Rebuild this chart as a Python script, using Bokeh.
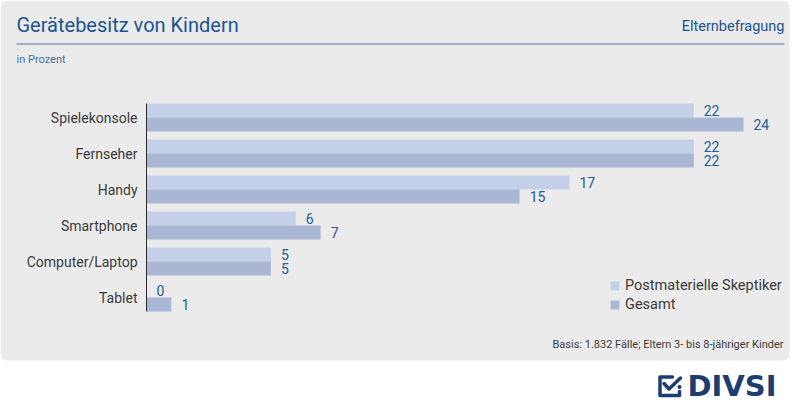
import numpy as np
from bokeh.plotting import figure
from bokeh.models import ColumnDataSource, Range1d, Legend, LegendItem
from bokeh.core.properties import value
from bokeh.embed import file_html
from bokeh.resources import INLINE

# ---------------- data ----------------
categories = ["Spielekonsole", "Fernseher", "Handy", "Smartphone", "Computer/Laptop", "Tablet"]
postmaterielle = [22, 22, 17, 6, 5, 0]
gesamt = [24, 22, 15, 7, 5, 1]
series_names = ["Postmaterielle Skeptiker", "Gesamt"]

title_text = "Gerätebesitz von Kindern"
source_text = "Elternbefragung"
unit_text = "in Prozent"
basis_text = "Basis: 1.832 Fälle; Eltern 3- bis 8-jähriger Kinder"
logo_text = "DIVSI"

# ---------------- styles / layout ----------------
BG = "#ebebeb"
LIGHT = "#c4cfe8"
DARK = "#aab7d4"
BLUE = "#20548f"
VAL_BLUE = "#245a95"
GRAY = "#3a3a3a"
LOGO = "#1b3d6f"
FONT = "Roboto"

W, H = 792, 403          # canvas size in px
AXIS_X = 146             # px position of the value axis (0)
PX_PER_UNIT = 24.875     # px per percent
FIRST_Y = 117            # px centre of first category group
PITCH = 36               # px between groups
bar_h = 14 / PITCH       # bar thickness in group units

n = len(categories)
idx = np.arange(n)

src = ColumnDataSource(dict(
    y=idx,
    y_l=idx - bar_h / 2,
    y_d=idx + bar_h / 2,
    cat=categories,
    pm=postmaterielle,
    ge=gesamt,
    pm_txt=[str(v) for v in postmaterielle],
    ge_txt=[str(v) for v in gesamt],
))

p = figure(width=W, height=H,
           x_range=Range1d(-AXIS_X / PX_PER_UNIT, (W - AXIS_X) / PX_PER_UNIT),
           y_range=Range1d((H - FIRST_Y) / PITCH, -FIRST_Y / PITCH),
           output_backend="svg", toolbar_location=None, min_border=0,
           x_axis_location=None, y_axis_location=None,
           background_fill_color="white", border_fill_color="white", outline_line_color=None)
p.xgrid.visible = False
p.ygrid.visible = False

# pixel-space ranges for the decorative frame
p.extra_x_ranges = {"px": Range1d(0, W)}
p.extra_y_ranges = {"py": Range1d(H, 0)}
deco = dict(x_range_name="px", y_range_name="py")

# grey rounded panel
p.quad(left=[0], right=[789], top=[0], bottom=[360], fill_color=BG, line_color=None,
       border_radius=7, **deco)

# header
p.text(x=[16], y=[24.5], text=[title_text], text_font=value(FONT), text_font_size="20px",
       text_color=BLUE, text_baseline="middle", text_align="left", **deco)
p.text(x=[784], y=[26], text=[source_text], text_font=value(FONT), text_font_size="14.5px",
       text_color=BLUE, text_baseline="middle", text_align="right", **deco)
p.segment(x0=[16], y0=[43.5], x1=[784], y1=[43.5], line_color="#4d79a6", line_width=1.2, **deco)
p.text(x=[16], y=[58.5], text=[unit_text], text_font=value(FONT), text_font_size="11px",
       text_color="#48709b", text_baseline="middle", text_align="left", **deco)

# bars
r_pm = p.hbar(y="y_l", left=0, right="pm", height=bar_h, source=src,
              fill_color=LIGHT, line_color=None)
r_ge = p.hbar(y="y_d", left=0, right="ge", height=bar_h, source=src,
              fill_color=DARK, line_color=None)

# value labels
for xcol, ycol, tcol in (("pm", "y_l", "pm_txt"), ("ge", "y_d", "ge_txt")):
    p.text(x=xcol, y=ycol, text=tcol, source=src, x_offset=10,
           text_font=value(FONT), text_font_size="14px", text_color=VAL_BLUE,
           text_baseline="middle", text_align="left")

# category axis: line and labels
p.segment(x0=[0], y0=[-bar_h], x1=[0], y1=[n - 1 + bar_h], line_color="#2b2b2b", line_width=1)
p.text(x=0, y="y", text="cat", source=src, x_offset=-9,
       text_font=value(FONT), text_font_size="14px", text_color=GRAY,
       text_baseline="middle", text_align="right")

# legend
legend = Legend(items=[LegendItem(label=series_names[0], renderers=[r_pm]),
                       LegendItem(label=series_names[1], renderers=[r_ge])],
                location=(609, H - 313), orientation="vertical", padding=0, margin=0,
                spacing=2, glyph_width=11, glyph_height=11, label_standoff=5,
                border_line_color=None, background_fill_alpha=0,
                label_text_font=FONT, label_text_font_size="14.5px", label_text_color=GRAY)
p.add_layout(legend)

# footer
p.text(x=[783], y=[344], text=[basis_text], text_font=value(FONT), text_font_size="11px",
       text_color=GRAY, text_baseline="middle", text_align="right", **deco)

# logo
p.line(x=[672, 659.5, 659.5, 679, 679], y=[376.5, 376.5, 395, 395, 391],
       line_color=LOGO, line_width=3.5, line_join="round", line_cap="round", **deco)
p.line(x=[663.5, 668.5, 680], y=[383, 388.5, 377.5],
       line_color=LOGO, line_width=3.5, line_join="round", line_cap="round", **deco)
p.scatter(x=[679], y=[386.5], size=4, marker="circle", fill_color=LOGO, line_color=None, **deco)
p.text(x=[687], y=[385], text=[logo_text], text_font=value("DejaVu Sans"),
       text_font_style="bold", text_font_size="29px", text_color=LOGO,
       text_baseline="middle", text_align="left", **deco)

with open("out.html", "w") as f:
    f.write(file_html(p, INLINE))
